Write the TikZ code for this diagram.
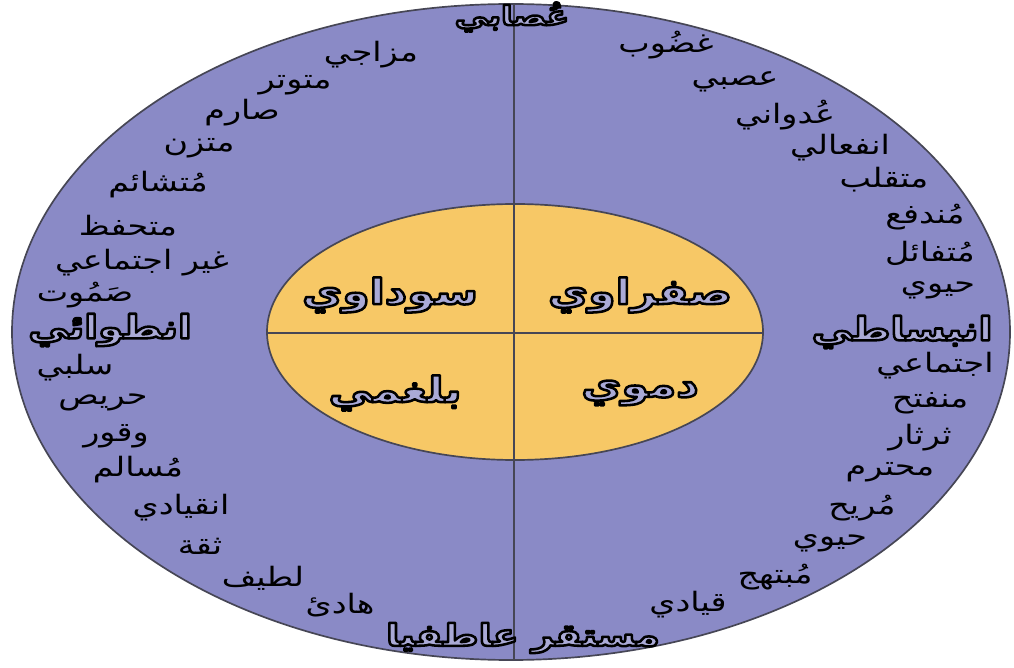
\documentclass[tikz,border=0pt]{standalone}
\usepackage{fontspec}
\newfontfamily\arabicfont[Script=Arabic, FakeStretch=1.25]{DejaVu Sans}
\TeXXeTstate=1

\definecolor{outerfill}{RGB}{138,138,198}
\definecolor{innerfill}{RGB}{247,200,102}
\definecolor{rimline}{RGB}{70,70,85}
\definecolor{labelfill}{RGB}{170,170,214}

% text filled with labelfill and stroked in black
\newcommand\outlinetext[1]{%
  \textcolor{labelfill}{\special{pdf:literal direct 2 Tr 1.8 w 1 j 0 0 0 RG}#1\special{pdf:literal direct 0 Tr}}}

\begin{document}
\begin{tikzpicture}[x=0.025cm, y=-0.025cm,
  word/.style={font=\arabicfont\fontsize{19}{21}\selectfont, inner sep=0pt},
  axislabel/.style={font=\arabicfont\bfseries\fontsize{23}{25}\selectfont, inner sep=0pt},
  humour/.style={font=\arabicfont\bfseries\fontsize{25}{27}\selectfont, inner sep=0pt},
]
  \useasboundingbox (0,0) rectangle (1014,668);
  \coordinate (O) at (511,332);
  \coordinate (I) at (515,332);
  % outer ring
  \draw[rimline, line width=1.2pt, fill=outerfill] (O) ellipse [x radius=499, y radius=328];
  \coordinate (top) at (514,4);
  \coordinate (bot) at (514,660);
  \draw[rimline, line width=0.8pt] (top) -- (bot);
  % inner circle
  \draw[rimline, line width=1.2pt, fill=innerfill] (I) ellipse [x radius=248, y radius=128];
  \coordinate (inL) at (267,333);
  \coordinate (inR) at (763,333);
  \coordinate (inT) at (514,204);
  \coordinate (inB) at (514,460);
  \draw[rimline, line width=1pt] (inL) -- (inR);
  \draw[rimline, line width=1pt] (inT) -- (inB);
  % humours
  \node[humour] (sufrawi) at (640,295) {\outlinetext{\beginR صفراوي\endR}};
  \node[humour] (sawdawi) at (390,295) {\outlinetext{\beginR سوداوي\endR}};
  \node[humour] (damawi)  at (640,393) {\outlinetext{\beginR دموي\endR}};
  \node[humour] (balghami) at (395,393) {\outlinetext{\beginR بلغمي\endR}};
  % axes
  \node[axislabel, font=\arabicfont\bfseries\fontsize{19}{21}\selectfont] (neurotic) at (512,17) {\outlinetext{\beginR عُصابي\endR}};
  \node[axislabel] (extravert) at (902,332) {\outlinetext{\beginR انبساطي\endR}};
  \node[axislabel] (introvert) at (110,330) {\outlinetext{\beginR انطوائي\endR}};
  \node[axislabel, font=\arabicfont\bfseries\fontsize{21.5}{23}\selectfont] (stable) at (523,638) {\outlinetext{\beginR مستقر عاطفيا\endR}};
  % traits
  \foreach \px/\py/\w [count=\i] in {
    371/55/مزاجي, 295/85/متوتر, 242/113/صارم, 199/148/متزن,
    158/185/مُتشائم, 128/226/متحفظ, 142/263/غير اجتماعي, 85/295/صَمُوت,
    75/368/سلبي, 103/402/حريص, 116/436/وقور, 138/470/مُسالم,
    181/508/انقيادي, 200/546/ثقة, 263/578/لطيف, 340/605/هادئ,
    666/45/غضُوب, 735/82/عصبي, 785/115/عُدواني, 840/148/انفعالي,
    884/180/متقلب, 925/217/مُندفع, 930/253/مُتفائل, 938/290/حيوي,
    935/366/اجتماعي, 930/403/منفتح, 920/438/ثرثار, 890/472/محترم,
    862/508/مُريح, 830/543/حيوي, 775/577/مُبتهج, 688/605/قيادي}
    \node[word] (t\i) at (\px,\py) {\beginR\w\endR};
\end{tikzpicture}
\end{document}
